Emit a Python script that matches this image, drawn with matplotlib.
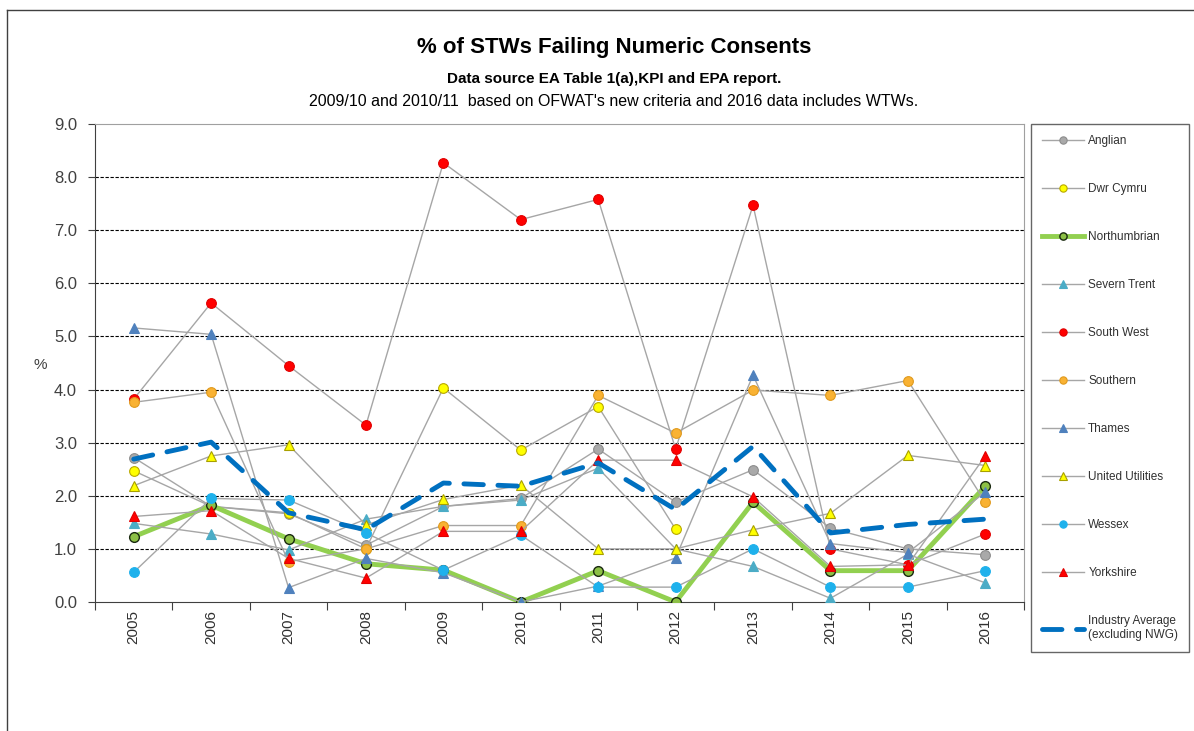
import matplotlib
matplotlib.use('Agg')
import matplotlib.pyplot as plt
import numpy as np

plt.rcParams['font.family'] = ['Liberation Sans', 'DejaVu Sans']

nan = np.nan
years = ['2005', '2006', '2007', '2008', '2009', '2010', '2011', '2012', '2013', '2014', '2015', '2016']

anglian = [2.72, 1.80, 1.66, 1.07, 1.80, 1.95, 2.88, 1.88, 2.49, 1.39, 1.00, 0.89]
dwr_cymru = [2.47, 1.80, 1.68, 1.00, 4.03, 2.86, 3.68, 1.37, nan, nan, nan, nan]
northumbrian = [1.23, 1.82, 1.19, 0.72, 0.60, 0.00, 0.59, 0.00, 1.88, 0.59, 0.59, 2.18]
severn_trent = [1.48, 1.28, 0.98, 1.56, 1.80, 1.92, 2.52, 1.00, 0.67, 0.07, 0.90, 0.36]
south_west = [3.82, 5.63, 4.45, 3.33, 8.27, 7.20, 7.58, 2.88, 7.47, 1.00, 0.70, 1.28]
southern = [3.76, 3.95, 0.76, 1.00, 1.44, 1.44, 3.89, 3.18, 3.99, 3.89, 4.17, 1.88]
thames = [5.16, 5.04, 0.27, 0.82, 0.55, 0.00, 0.30, 0.83, 4.27, 1.10, 0.93, 2.07]
united_utilities = [2.19, 2.75, 2.96, 1.45, 1.93, 2.20, 1.00, 1.00, 1.36, 1.67, 2.76, 2.57]
wessex = [0.56, 1.95, 1.92, 1.30, 0.60, 1.26, 0.28, 0.28, 1.00, 0.28, 0.28, 0.59]
yorkshire = [1.61, 1.72, 0.82, 0.45, 1.33, 1.33, 2.67, 2.67, 1.98, 0.67, 0.70, 2.75]
industry_avg = [2.69, 3.01, 1.68, 1.36, 2.24, 2.18, 2.62, 1.74, 2.93, 1.30, 1.46, 1.56]

fig = plt.figure(figsize=(11.94, 7.31), dpi=100)
fig.patch.set_facecolor('white')
ax = fig.add_axes([95/1194, 1-602/731, 929/1194, 478/731])

x = np.arange(len(years))
grey = '#a6a6a6'

# (label, data, marker, face, edge)
companies = [
    ('Anglian', anglian, 'o', '#a9a9a9', '#8c8c8c'),
    ('Dwr Cymru', dwr_cymru, 'o', '#ffff00', '#b8a800'),
]
for name, vals, m, fc, ec in companies:
    ax.plot(x, vals, color=grey, lw=1, marker=m, ms=7, mfc=fc, mec=ec, mew=0.8, label=name, zorder=3)

ax.plot(x, northumbrian, color='#92d050', lw=3.5, marker='o', ms=7, mfc='#8cc045',
        mec='#1a2a10', mew=1.0, label='Northumbrian', zorder=3)

companies = [
    ('Severn Trent', severn_trent, '^', '#4bacc6', '#4bacc6'),
    ('South West', south_west, 'o', '#ff0000', '#e00000'),
    ('Southern', southern, 'o', '#f9b233', '#e09a1d'),
    ('Thames', thames, '^', '#4f81bd', '#4f81bd'),
    ('United Utilities', united_utilities, '^', '#ffff00', '#a8a000'),
    ('Wessex', wessex, 'o', '#1eb1ec', '#1eb1ec'),
    ('Yorkshire', yorkshire, '^', '#ff0000', '#e00000'),
]
for name, vals, m, fc, ec in companies:
    ax.plot(x, vals, color=grey, lw=1, marker=m, ms=7, mfc=fc, mec=ec, mew=0.8, label=name, zorder=3)

ax.plot(x, industry_avg, color='#0070c0', lw=3.5, dashes=(4, 3), dash_capstyle='round',
        label='Industry Average\n(excluding NWG)', zorder=4)

# axes styling
ax.set_xlim(-0.5, len(years) - 0.5)
ax.set_ylim(0, 9)
ax.set_yticks(np.arange(0, 10, 1))
ax.set_yticklabels(['%.1f' % v for v in np.arange(0, 10, 1)], fontsize=12, color='#404040')
ax.set_xticks(np.arange(-0.5, len(years), 1))
ax.set_xticklabels([])
ax.set_xticks(x, minor=True)
ax.set_xticklabels(years, minor=True, rotation=90, fontsize=11, color='#303030')
ax.tick_params(axis='x', which='major', length=6, direction='out', color='#404040')
ax.tick_params(axis='x', which='minor', length=0, pad=6)
ax.tick_params(axis='y', length=5, direction='out', color='#404040', pad=8)

for v in range(1, 9):
    ax.axhline(v, color='black', lw=0.8, ls=(0, (3, 1.5)), zorder=1)

ax.spines['left'].set_color('#404040')
ax.spines['bottom'].set_color('#404040')
ax.spines['top'].set_color('#a0a0a0')
ax.spines['right'].set_color('#a0a0a0')

fig.text(40/1194, 1-365/731, '%', fontsize=11, color='#404040', ha='center', va='center')

# titles
fig.text(614/1194, 1-48/731, '% of STWs Failing Numeric Consents', fontsize=16,
         fontweight='bold', ha='center', va='center')
fig.text(614/1194, 1-79/731, 'Data source EA Table 1(a),KPI and EPA report.', fontsize=11,
         fontweight='bold', ha='center', va='center')
fig.text(614/1194, 1-101/731,
         "2009/10 and 2010/11  based on OFWAT's new criteria and 2016 data includes WTWs.",
         fontsize=11.5, ha='center', va='center')

leg = fig.legend(loc='upper left', bbox_to_anchor=(1031/1194, 1-124/731), borderaxespad=0,
                 fontsize=8.5, labelspacing=3.05, handlelength=3.5, handletextpad=0.4,
                 fancybox=False, frameon=True, borderpad=0.95, markerscale=0.75)
leg.get_frame().set_edgecolor('#404040')
leg.get_frame().set_linewidth(1.0)
for t in leg.get_texts():
    t.set_color('#303030')

# chart-area border
fig.add_artist(plt.Line2D([7/1194, 7/1194], [0, 1-10/731], color='#404040', lw=1))
fig.add_artist(plt.Line2D([7/1194, 1], [1-10/731, 1-10/731], color='#404040', lw=1))

fig.savefig('out.png', dpi=100)
